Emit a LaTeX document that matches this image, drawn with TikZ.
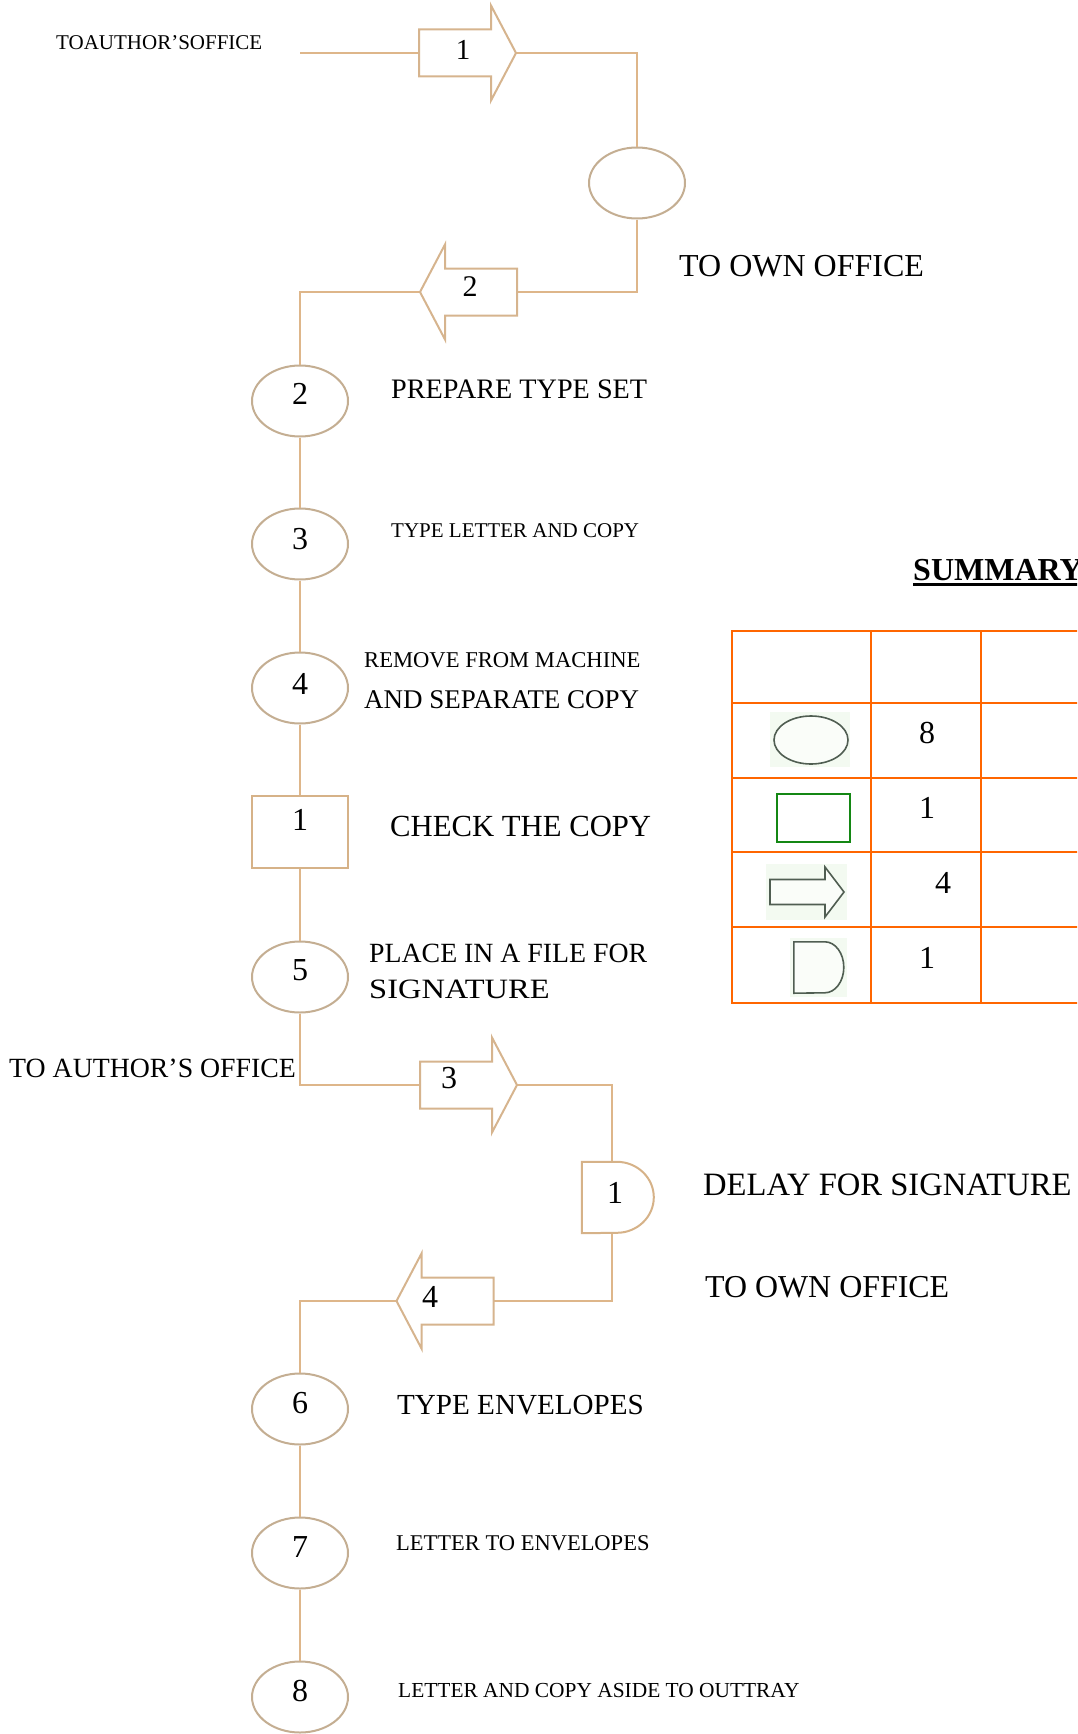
\documentclass[tikz,border=0pt]{standalone}
\usepackage{fontspec}
\setmainfont{Liberation Serif}
\usepackage{graphicx}
\usetikzlibrary{shapes.geometric,calc}

\definecolor{flowline}{RGB}{222,182,138}
\definecolor{opline}{RGB}{196,174,146}
\definecolor{arrowline}{RGB}{214,180,142}
\definecolor{boxline}{RGB}{214,178,136}
\definecolor{tableline}{RGB}{255,102,0}
\definecolor{icongray}{RGB}{80,94,82}
\definecolor{icongreen}{RGB}{20,135,20}
\definecolor{iconback}{RGB}{243,250,241}

\newcommand\txtsize[1]{\fontsize{#1}{#1}\selectfont}

\tikzset{
  conn/.style={draw=flowline, line width=2.5pt},
  opnode/.style={ellipse, draw=opline, line width=2pt, fill=white,
    minimum width=96pt, minimum height=71pt, inner sep=0pt},
  inspbox/.style={rectangle, draw=boxline, line width=2pt, fill=white,
    minimum width=96pt, minimum height=72pt, inner sep=0pt},
  % transport arrow: invisible box, its outline is drawn separately
  movebox/.style={inner sep=0pt, minimum width=97pt, minimum height=95pt},
  moveline/.style={draw=arrowline, line width=2pt, fill=white, line join=miter},
  num/.style={inner sep=0pt, font=\txtsize{32}},
  lbl/.style={anchor=base west, inner sep=0pt},
  cellline/.style={draw=tableline, line width=2.5pt},
}

% outline of a block arrow pointing right, centred on the origin
\newcommand\blockarrowoutline{%
  (-48.5,-23.5) -- (23.5,-23.5) -- (23.5,-47.5) -- (48.5,0)
  -- (23.5,47.5) -- (23.5,23.5) -- (-48.5,23.5) -- cycle}

\begin{document}
\begin{tikzpicture}[x=1pt,y=-1pt]
\useasboundingbox (0,0) rectangle (1077,1734);
\clip (0,0) rectangle (1077,1734);

% ---------- flow chart symbols ----------
\coordinate (start) at (300,53);
\node[movebox] (a1) at (467.5,53) {};     % points right
\node[opnode] (o1) at (637,183) {};
\node[movebox] (a2) at (468.5,292) {};    % points left
\node[opnode] (o2) at (300,401) {};
\node[opnode] (o3) at (300,544) {};
\node[opnode] (o4) at (300,688) {};
\node[inspbox] (r1) at (300,832) {};
\node[opnode] (o5) at (300,977) {};
\node[movebox] (a3) at (468.5,1085) {};   % points right
\node[inner sep=0pt, minimum width=73pt, minimum height=71pt] (d1) at (618.5,1197.5) {};
\node[movebox] (a4) at (445,1301) {};     % points left
\node[opnode] (o6) at (300,1409) {};
\node[opnode] (o7) at (300,1553) {};
\node[opnode] (o8) at (300,1697) {};

\coordinate (d1in) at ($(d1.north west)+(30,0)$);
\coordinate (d1out) at ($(d1.south west)+(30,0)$);

% ---------- connectors ----------
\draw[conn] (start) -- (a1.west);
\draw[conn] (a1.east) -| (o1.north);
\draw[conn] (o1.south) |- (a2.east);
\draw[conn] (a2.west) -| (o2.north);
\draw[conn] (o2) -- (o3);
\draw[conn] (o3) -- (o4);
\draw[conn] (o4) -- (r1);
\draw[conn] (r1) -- (o5);
\draw[conn] (o5.south) |- (a3.west);
\draw[conn] (a3.east) -| (d1in);
\draw[conn] (d1out) |- (a4.east);
\draw[conn] (a4.west) -| (o6.north);
\draw[conn] (o6) -- (o7);
\draw[conn] (o7) -- (o8);

% transport arrows
\draw[moveline, shift={(a1.center)}] \blockarrowoutline;
\draw[moveline, shift={(a2.center)}, xscale=-1] \blockarrowoutline;
\draw[moveline, shift={(a3.center)}] \blockarrowoutline;
\draw[moveline, shift={(a4.center)}, xscale=-1] \blockarrowoutline;

% delay symbol
\draw[draw=boxline, line width=2pt, fill=white]
  (d1.north west) -- ++(35,0)
  arc[start angle=90, end angle=-90, x radius=37pt, y radius=35.5pt]
  -- (d1.south west) -- cycle;

% ---------- numbers inside symbols ----------
\node[num, font=\txtsize{29}] (na1) at (463,50) {1};
\node[num, font=\txtsize{30}] (na2) at (470,287) {2};
\node[num] (no2) at (300,394) {2};
\node[num] (no3) at (300,539) {3};
\node[num] (no4) at (300,684) {4};
\node[num] (nr1) at (300,820) {1};
\node[num] (no5) at (300,970) {5};
\node[num] (na3) at (449,1078) {3};
\node[num] (nd1) at (615,1193) {1};
\node[num] (na4) at (430,1297) {4};
\node[num] (no6) at (300,1403) {6};
\node[num] (no7) at (300,1547) {7};
\node[num] (no8) at (300,1691) {8};

% ---------- step descriptions ----------
\node[lbl, font=\txtsize{21}] (t1) at (56,50) {TOAUTHOR’SOFFICE};
\node[lbl, font=\txtsize{32}] (t2) at (679,276) {TO OWN OFFICE};
\node[lbl, font=\txtsize{28.2}] (t3) at (391,398) {PREPARE TYPE SET};
\node[lbl, font=\txtsize{21}] (t4) at (391,537) {TYPE LETTER AND COPY};
\node[lbl, font=\txtsize{22.6}] (t5) at (364,667) {REMOVE FROM MACHINE};
\node[lbl, font=\txtsize{27}] (t6) at (364,708) {AND SEPARATE COPY};
\node[lbl, font=\txtsize{30.7}] (t7) at (390,836) {CHECK THE COPY};
\node[lbl, font=\txtsize{27.8}] (t8) at (369,962) {PLACE IN A FILE FOR};
\node[lbl, font=\txtsize{28}] (t9) at (369,998) {\scalebox{1.16}[1]{SIGNATURE}};
\node[lbl, font=\txtsize{27.8}] (t10) at (9,1077) {TO AUTHOR’S OFFICE};
\node[lbl, font=\txtsize{32.6}] (t11) at (703,1195) {DELAY FOR SIGNATURE};
\node[lbl, font=\txtsize{31.9}] (t12) at (705,1297) {TO OWN OFFICE};
\node[lbl, font=\txtsize{29.1}] (t13) at (397,1414) {TYPE ENVELOPES};
\node[lbl, font=\txtsize{22.5}] (t14) at (396,1550) {LETTER TO ENVELOPES};
\node[lbl, font=\txtsize{21.4}] (t15) at (398,1697) {LETTER AND COPY ASIDE TO OUTTRAY};

% ---------- summary table ----------
\node[lbl, font=\txtsize{32}\bfseries] (sum) at (913,580) {SUMMARY};
\draw[black, line width=2.6pt] (913,584.5) -- (1090,584.5);

\foreach \yy in {631,703,778,852,927,1003}
  \draw[cellline] (731,\yy) -- (1090,\yy);
\foreach \xx in {732,871,981}
  \draw[cellline] (\xx,631) -- (\xx,1003);

% legend symbols
\fill[iconback] (770,712) rectangle (850,767);
\node[ellipse, draw=icongray, line width=1.6pt, fill=white!60!iconback,
  minimum width=74pt, minimum height=48pt, inner sep=0pt] (k1) at (811,740) {};
\node[rectangle, draw=icongreen, line width=1.6pt,
  minimum width=73pt, minimum height=48pt, inner sep=0pt] (k2) at (813.5,818) {};
\fill[iconback] (766,864) rectangle (847,920);
\node[inner sep=0pt, minimum width=74pt, minimum height=50pt] (k3) at (807,892) {};
\draw[draw=icongray, line width=1.6pt, fill=white!60!iconback, shift={(k3.center)}]
  (-37,-12.5) -- (18,-12.5) -- (18,-25) -- (37,0) -- (18,25) -- (18,12.5)
  -- (-37,12.5) -- cycle;
\fill[iconback] (790,938) rectangle (847,997);
\node[inner sep=0pt, minimum width=50pt, minimum height=51pt] (k4) at (819,967.5) {};
\draw[draw=icongray, line width=1.6pt, fill=white!60!iconback]
  (k4.north west) -- ++(31,0)
  arc[start angle=90, end angle=-90, x radius=19pt, y radius=25.5pt]
  -- (k4.south west) -- cycle;

\node[num] (c1) at (927,733) {8};
\node[num] (c2) at (927,808) {1};
\node[num] (c3) at (943,883) {4};
\node[num] (c4) at (927,958) {1};
\end{tikzpicture}
\end{document}
